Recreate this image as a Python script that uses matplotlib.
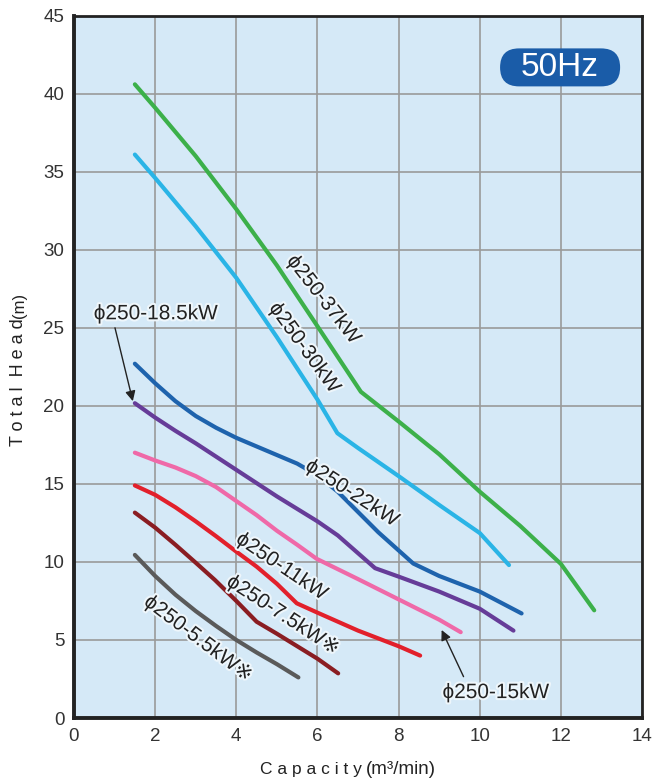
import matplotlib.pyplot as plt
import matplotlib.patheffects as pe
from matplotlib.patches import FancyBboxPatch

plt.rcParams['font.family'] = ['Liberation Sans', 'DejaVu Sans']

# Pumpenkennlinien, 50Hz
x_37 = [1.5, 2.0, 3.0, 4.0, 5.0, 6.0, 7.07, 8.0, 9.0, 10.0, 11.0, 12.0, 12.82]
y_37 = [40.6, 39.1, 36.0, 32.6, 29.0, 25.1, 20.9, 19.0, 16.9, 14.5, 12.3, 9.87, 6.9]

x_30 = [1.5, 2.0, 3.0, 4.0, 5.0, 6.0, 6.49, 7.0, 8.0, 9.0, 10.0, 10.72]
y_30 = [36.1, 34.6, 31.5, 28.2, 24.4, 20.4, 18.25, 17.3, 15.5, 13.65, 11.85, 9.8]

x_22 = [1.5, 2.0, 2.5, 3.0, 3.5, 4.0, 4.5, 5.0, 5.5, 6.0, 6.5, 7.0, 7.5,
        8.36, 9.0, 10.0, 11.03]
y_22 = [22.7, 21.45, 20.3, 19.35, 18.6, 17.95, 17.4, 16.85, 16.3, 15.55, 14.5,
        13.2, 11.9, 9.9, 9.1, 8.1, 6.7]

x_185 = [1.5, 2.0, 2.5, 3.0, 3.5, 4.0, 4.5, 5.0, 5.5, 6.0, 6.5, 7.42, 8.0,
         9.0, 10.0, 10.83]
y_185 = [20.17, 19.25, 18.4, 17.6, 16.75, 15.9, 15.05, 14.2, 13.4, 12.6, 11.7,
         9.6, 9.06, 8.1, 7.0, 5.6]

x_15 = [1.5, 2.0, 2.5, 3.0, 3.5, 4.0, 4.5, 5.0, 5.5, 5.98, 7.0, 8.0, 9.0, 9.53]
y_15 = [17.0, 16.5, 16.05, 15.5, 14.8, 13.9, 13.0, 12.0, 11.1, 10.2, 8.9,
        7.6, 6.3, 5.5]

x_11 = [1.5, 2.0, 2.5, 3.0, 3.5, 4.0, 4.5, 5.0, 5.49, 6.0, 7.0, 8.0, 8.53]
y_11 = [14.9, 14.3, 13.5, 12.6, 11.65, 10.66, 9.7, 8.6, 7.35, 6.75, 5.6,
        4.6, 4.0]

x_75 = [1.5, 2.0, 2.5, 3.0, 3.47, 4.0, 4.5, 5.0, 6.0, 6.51]
y_75 = [13.16, 12.2, 11.1, 9.95, 8.85, 7.5, 6.17, 5.4, 3.8, 2.86]

x_55 = [1.5, 2.0, 2.5, 3.0, 3.5, 4.0, 4.5, 5.0, 5.53]
y_55 = [10.45, 9.1, 7.9, 6.85, 5.9, 5.0, 4.2, 3.45, 2.6]

kurven = [
    (x_37, y_37, "#3cb04a"),
    (x_30, y_30, "#2ab4e6"),
    (x_22, y_22, "#1e63ad"),
    (x_185, y_185, "#663c98"),
    (x_15, y_15, "#ef69a8"),
    (x_11, y_11, "#e2202b"),
    (x_75, y_75, "#8a1d22"),
    (x_55, y_55, "#5a5a5a"),
]

fig = plt.figure(figsize=(6.56, 7.83), dpi=100)
ax = fig.add_axes([0.1128, 0.083, 0.866, 0.897])
ax.set_facecolor("#d5e9f7")

for xs, ys, farbe in kurven:
    ax.plot(xs, ys, color=farbe, lw=3.0, solid_capstyle="round",
            solid_joinstyle="round", zorder=3)

ax.set_xlim(0, 14)
ax.set_ylim(0, 45)
ax.set_xticks(range(0, 15, 2))
ax.set_yticks(range(0, 46, 5))
ax.grid(True, color="#9a9a9a", lw=1.2, zorder=1)
ax.set_axisbelow(True)
ax.tick_params(length=0, labelsize=13.5, labelcolor="#333333", pad=7)

for s in ["left", "bottom"]:
    ax.spines[s].set_linewidth(2.8)
for s in ["top", "right"]:
    ax.spines[s].set_linewidth(2.0)
for s in ax.spines.values():
    s.set_color("#222222")

# Achsenbeschriftungen
fig.text(362/656, 0.011, "C a p a c i t y", fontsize=12.5, ha="right",
         va="baseline", color="#222222")
fig.text(366/656, 0.011, "(m³/min)", fontsize=13.5, ha="left",
         va="baseline", color="#222222")
fig.text(19/656, (783-446)/783, "T o t a l  H e a d", fontsize=13,
         rotation=90, ha="center", va="bottom", color="#222222")
fig.text(19/656, (783-318)/783, "(m)", fontsize=12,
         rotation=90, ha="center", va="bottom", color="#222222")

halo = [pe.withStroke(linewidth=3, foreground="#eef6fb")]
txt = dict(fontsize=15, color="#222222", ha="center", va="center",
           path_effects=halo, zorder=5)
ax.text(6.15, 26.8, "ϕ250-37kW", rotation=-52, **txt)
ax.text(5.68, 23.7, "ϕ250-30kW", rotation=-54, **txt)
ax.text(6.85, 14.4, "ϕ250-22kW", rotation=-33, **txt)
ax.text(5.12, 9.7, "ϕ250-11kW", rotation=-34, **txt)
ax.text(5.16, 6.6, "ϕ250-7.5kW※", rotation=-33, **txt)
ax.text(3.07, 5.1, "ϕ250-5.5kW※", rotation=-37, **txt)

ax.text(2.02, 25.9, "ϕ250-18.5kW", **txt)
ax.annotate("", xy=(1.45, 20.3), xytext=(1.01, 25.0),
            arrowprops=dict(arrowstyle="-|>", color="#222222", lw=1,
                            shrinkA=0, shrinkB=0, mutation_scale=15))
ax.text(10.4, 1.63, "ϕ250-15kW", **txt)
ax.annotate("", xy=(9.06, 5.64), xytext=(9.6, 2.65),
            arrowprops=dict(arrowstyle="-|>", color="#222222", lw=1,
                            shrinkA=0, shrinkB=0, mutation_scale=15))

# 50Hz Schild
box = FancyBboxPatch((0.75, 0.8993), 0.2113, 0.0541,
                     boxstyle="round,pad=0,rounding_size=0.0334",
                     mutation_aspect=568/702, transform=ax.transAxes,
                     fc="#1a5ca8", ec="none", zorder=6)
ax.add_patch(box)
ax.text(0.8556, 0.9264, "50Hz", fontsize=24, color="white",
        ha="center", va="center", transform=ax.transAxes, zorder=7)

plt.savefig("out.png", dpi=100)
